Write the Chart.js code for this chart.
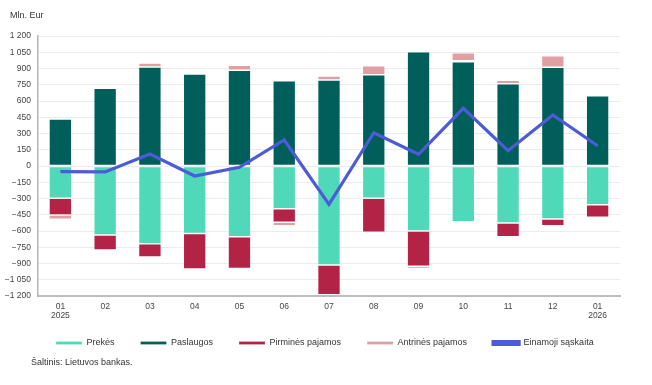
<!DOCTYPE html>
<html>
<head>
<meta charset="utf-8">
<script src="https://cdn.jsdelivr.net/npm/chart.js@4/dist/chart.umd.min.js"></script>
<style>
  html, body { margin: 0; padding: 0; background: #fff; }
  #wrap { position: relative; width: 652px; height: 385px; font-family: "Liberation Sans", Arial, sans-serif; color: #333; }
  #unit { position: absolute; left: 10px; top: 10px; font-size: 9px; }
  #src { position: absolute; left: 31px; top: 357px; font-size: 9px; }
</style>
</head>
<body>
<div id="wrap">
  <canvas id="ch" width="652" height="385"></canvas>
  <div id="unit">Mln. Eur</div>
  <div id="src">Šaltinis: Lietuvos bankas.</div>
</div>
<script>
/* ---------- data (mln. Eur) ---------- */
const months = [['01', '2025'], '02', '03', '04', '05', '06', '07', '08', '09', '10', '11', '12', ['01', '2026']];
const prekes = [-298, -637, -717, -622, -652, -394, -914, -298, -600, -514, -526, -489, -357];
const paslaugos = [434, 717, 914, 849, 883, 788, 794, 843, 1055, 963, 760, 911, 649];
const pirmines = [-154, -138, -123, -329, -293, -126, -274, -314, -326, 8, -126, -62, -117];
const antrines = [-40, -4, 37, 6, 46, -31, 37, 83, -19, 74, 31, 107, 6];
const einamoji = [-52, -55, 111, -92, -12, 240, -354, 307, 108, 532, 141, 471, 187];

const FONT = '"Liberation Sans", Arial, sans-serif';

// 1200 -> "1 200", -150 -> "−150"
function fmt(v) {
  const a = Math.abs(v);
  let s = a >= 1000 ? Math.floor(a / 1000) + ' ' + String(a % 1000).padStart(3, '0') : String(a);
  return v < 0 ? '\u2212' + s : s;
}

const bar = (label, data, color) => ({
  type: 'bar',
  label,
  data,
  backgroundColor: color,
  borderColor: 'rgba(255,255,255,0.3)',
  borderWidth: 0.75,
  borderSkipped: false,
  stack: 's1',
  order: 1,
  categoryPercentage: 1,
  barPercentage: 0.51,
});

// legend needs wide horizontal gaps but sits close to the axis labels -> nudge it after layout
const legendNudge = {
  id: 'legendNudge',
  afterLayout(chart) {
    const lg = chart.legend;
    if (!lg) return;
    lg.left = 30;
    lg.top = 312.5;
  },
};

new Chart(document.getElementById('ch'), {
  data: {
    labels: months,
    datasets: [
      bar('Prekės', prekes, '#4fd9b8'),
      bar('Paslaugos', paslaugos, '#005f5b'),
      bar('Pirminės pajamos', pirmines, '#b22345'),
      bar('Antrinės pajamos', antrines, '#e09fa1'),
      {
        type: 'line',
        label: 'Einamoji sąskaita',
        data: einamoji,
        borderColor: '#4e5bd6',
        backgroundColor: '#4e5bd6',
        borderWidth: 3.2,
        pointRadius: 0,
        tension: 0,
        stack: 'line',
        order: 0,
      },
    ],
  },
  plugins: [legendNudge],
  options: {
    responsive: false,
    animation: false,
    layout: { padding: { left: 0, right: 32, top: 36, bottom: 18 } },
    plugins: {
      tooltip: { enabled: false },
      legend: {
        position: 'bottom',
        align: 'start',
        labels: {
          boxWidth: 26,
          boxHeight: 3,
          padding: 26,
          color: '#333',
          font: { family: FONT, size: 9 },
          sort: (a, b) => a.datasetIndex - b.datasetIndex,
        },
      },
    },
    scales: {
      x: {
        stacked: true,
        grid: { display: false, drawTicks: false },
        border: { display: true, color: '#bdbdbd', width: 2 },
        ticks: { color: '#444', padding: 6, font: { family: FONT, size: 8.5, lineHeight: 1.06 }, maxRotation: 0, autoSkip: false },
        afterFit: (s) => { s.height = 26; },
      },
      y: {
        stacked: true,
        min: -1200,
        max: 1200,
        grid: { color: '#ececec', lineWidth: 1, drawTicks: false },
        border: { display: true, color: '#b5b5b5', width: 1.5 },
        ticks: { stepSize: 150, color: '#444', padding: 7, font: { family: FONT, size: 8.5 }, callback: (v) => fmt(v) },
        afterFit: (s) => { s.width = 38; },
      },
    },
  },
});
</script>
</body>
</html>
